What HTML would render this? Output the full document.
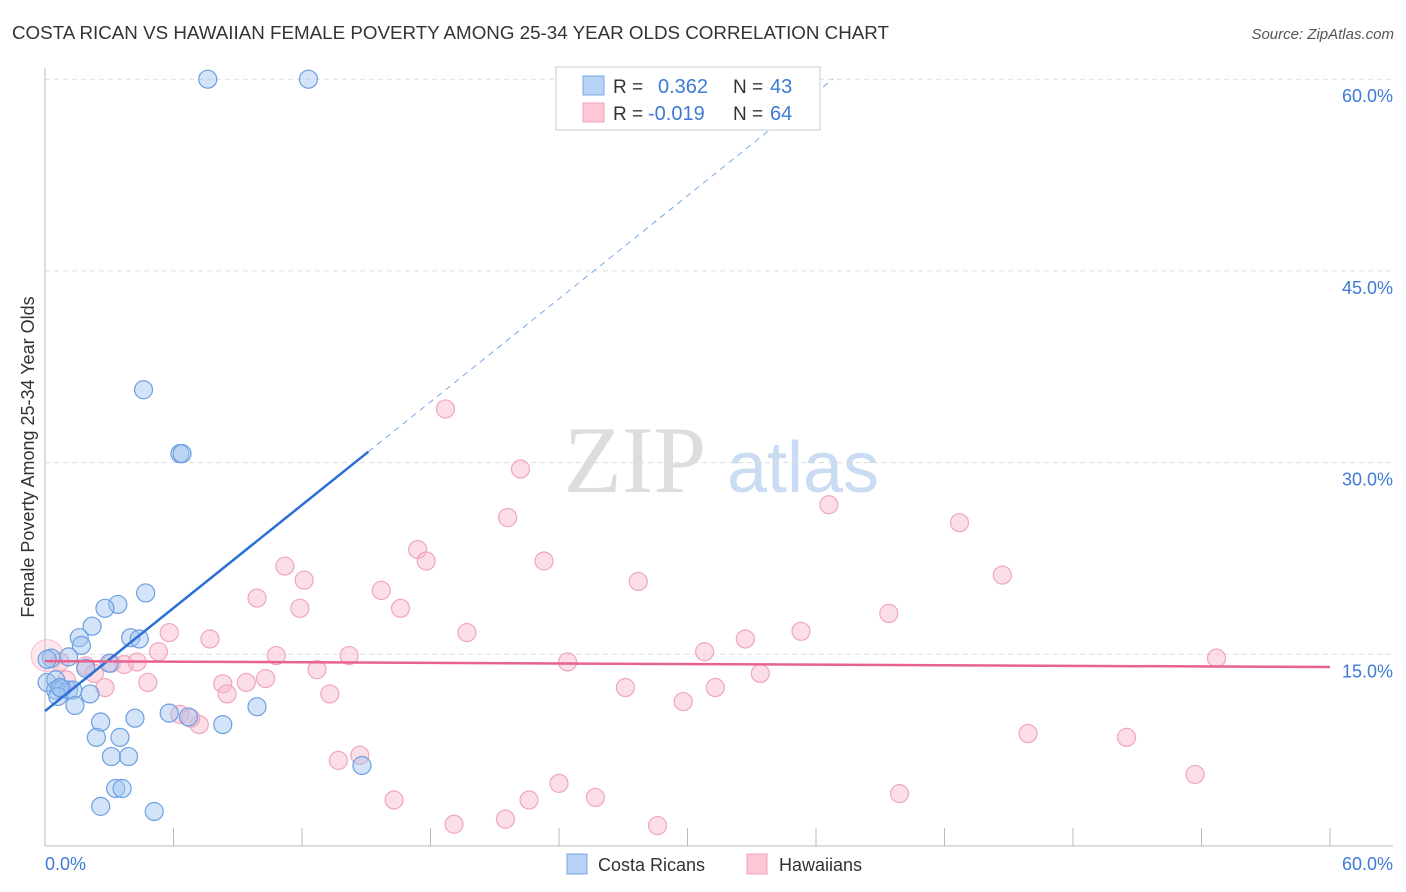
<!DOCTYPE html>
<html><head><meta charset="utf-8"><style>
body{margin:0;background:#fff;font-family:"Liberation Sans",sans-serif}
svg{display:block}
</style></head><body>
<svg width="1406" height="892">
<text x="12" y="39" font-size="18" fill="#333" textLength="877" lengthAdjust="spacingAndGlyphs">COSTA RICAN VS HAWAIIAN FEMALE POVERTY AMONG 25-34 YEAR OLDS CORRELATION CHART</text>
<text x="1394" y="39" font-size="15" fill="#555" font-style="italic" text-anchor="end">Source: ZipAtlas.com</text>
<text x="635" y="492" font-size="95" fill="#ddd" font-family="Liberation Serif,serif" text-anchor="middle">ZIP</text>
<text x="803" y="492" font-size="72" fill="#c9dcf3" text-anchor="middle">atlas</text>
<g id="grid"></g>
<g id="marks"></g>
<text transform="translate(34,457) rotate(-90)" font-size="18" fill="#333" text-anchor="middle">Female Poverty Among 25-34 Year Olds</text>
<text x="45" y="870" font-size="18" fill="#3d7bd6">0.0%</text>
<text x="1393" y="870" font-size="18" fill="#3d7bd6" text-anchor="end">60.0%</text>
<g>
<rect x="556" y="67" width="264" height="63" fill="#fff" stroke="#ccc"/>
<rect x="583" y="76" width="21" height="19" fill="#b8d2f5" stroke="#7aa7e6"/>
<rect x="583" y="103" width="21" height="19" fill="#fcc8d6" stroke="#f0a3ba"/>
<text x="613" y="93" font-size="19" fill="#333">R = </text><text x="658" y="93" font-size="20" fill="#3d7bd6">0.362</text>
<text x="733" y="93" font-size="19" fill="#333">N = </text><text x="770" y="93" font-size="20" fill="#3d7bd6">43</text>
<text x="613" y="120" font-size="19" fill="#333">R = </text><text x="648" y="120" font-size="20" fill="#3d7bd6">-0.019</text>
<text x="733" y="120" font-size="19" fill="#333">N = </text><text x="770" y="120" font-size="20" fill="#3d7bd6">64</text>
</g>
<g>
<rect x="567" y="854" width="20" height="20" fill="#b8d2f5" stroke="#7aa7e6"/>
<text x="598" y="871" font-size="18" fill="#333">Costa Ricans</text>
<rect x="747" y="854" width="20" height="20" fill="#fcc8d6" stroke="#f0a3ba"/>
<text x="779" y="871" font-size="18" fill="#333">Hawaiians</text>
</g>
</svg>
<script>
const yTicks=[15,30,45,60];
const yTickLabels=["15.0%","30.0%","45.0%","60.0%"];
const xTicks=[0,6,12,18,24,30,36,42,48,54,60];
const blueX=[7.6,12.3,4.6,6.3,6.4,4.7,3.4,2.8,2.2,1.6,4.0,4.4,1.7,1.1,0.3,3.0,1.9,0.1,0.5,0.5,0.8,1.1,1.3,2.1,0.6,1.4,5.8,6.7,4.2,2.6,8.3,9.9,2.4,3.5,3.1,3.9,3.3,3.6,2.6,5.1,14.8,0.1,0.7];
const blueY=[60,60,35.7,30.7,30.7,19.8,18.9,18.6,17.2,16.3,16.3,16.2,15.7,14.8,14.7,14.3,13.9,12.8,13.0,12.2,12.3,12.2,12.2,11.9,11.7,11.0,10.4,10.1,10.0,9.7,9.5,10.9,8.5,8.5,7.0,7.0,4.5,4.5,3.1,2.7,6.3,14.6,12.4];
const pinkX=[18.7,22.2,21.6,36.6,42.7,17.4,17.8,23.3,11.2,12.1,44.7,27.7,15.7,9.9,11.9,16.6,39.4,19.7,5.8,7.7,32.7,35.3,5.3,10.8,14.2,30.8,54.7,24.4,1.9,3.1,3.7,4.3,12.7,0.7,1.0,2.3,4.8,8.3,9.4,10.3,2.8,13.3,27.1,31.3,29.8,33.4,6.3,7.2,8.5,14.7,13.7,45.9,50.5,16.3,24.0,25.7,22.6,19.1,21.5,28.6,39.9,53.7,6.8];
const pinkY=[34.2,29.5,25.7,26.7,25.3,23.2,22.3,22.3,21.9,20.8,21.2,20.7,20.0,19.4,18.6,18.6,18.2,16.7,16.7,16.2,16.2,16.8,15.2,14.9,14.9,15.2,14.7,14.4,14.1,14.3,14.2,14.4,13.8,14.4,13.0,13.5,12.8,12.7,12.8,13.1,12.4,11.9,12.4,12.4,11.3,13.5,10.3,9.5,11.9,7.1,6.7,8.8,8.5,3.6,4.9,3.8,3.6,1.7,2.1,1.6,4.1,5.6,10.0];
const blueFit=[10.56,1.344];
const pinkFit=[14.47,-0.0078];
const NS="http://www.w3.org/2000/svg";
const X=v=>45+v*(1285/60), Y=v=>846-v*(191.7/15);
function mk(t,a,p){const e=document.createElementNS(NS,t);for(const k in a)e.setAttribute(k,a[k]);p.appendChild(e);return e;}
const grid=document.getElementById('grid'), marks=document.getElementById('marks');
yTicks.forEach((t,i)=>{
 const l=mk('line',{x1:45,x2:1393,y1:Y(t),y2:Y(t),stroke:'#ddd','stroke-dasharray':'5,4'},grid);
 
 
 const tx=mk('text',{x:1393,y:Y(t)+23,'font-size':18,fill:'#3d7bd6','text-anchor':'end'},grid);
 tx.textContent=yTickLabels[i];
 
 
});
const ya=mk('line',{x1:45,x2:45,y1:68,y2:846,stroke:'#bbb'},grid);


const xa=mk('line',{x1:45,x2:1393,y1:846,y2:846,stroke:'#bbb'},grid);


xTicks.forEach(t=>{
 const l=mk('line',{x1:X(t),x2:X(t),y1:828,y2:846,stroke:'#bbb'},grid);
 
 
});
pinkX.forEach((x,i)=>{
 const c=mk('circle',{cx:X(x),cy:Y(pinkY[i]),r:9,fill:'rgba(248,182,202,0.45)',stroke:'#f0a6bd','stroke-width':1.2},marks);
 
 
});
const big=mk('circle',{cx:X(0.1),cy:Y(14.9),r:16,fill:'rgba(248,182,202,0.35)',stroke:'#f5c0d0'},marks);


blueX.forEach((x,i)=>{
 const c=mk('circle',{cx:X(x),cy:Y(blueY[i]),r:9,fill:'rgba(160,196,240,0.45)',stroke:'#6b9fe2','stroke-width':1.2},marks);
 
 
});
const bf=x=>blueFit[0]+blueFit[1]*x;
const b1=mk('line',{x1:X(0),y1:Y(bf(0)),x2:X(15.1),y2:Y(bf(15.1)),stroke:'#2a6fd6','stroke-width':2.5},marks);


const xe=(60-blueFit[0])/blueFit[1];
const b2=mk('line',{x1:X(15.1),y1:Y(bf(15.1)),x2:X(xe),y2:Y(bf(xe)),stroke:'#7aa7e6','stroke-width':1,'stroke-dasharray':'6,5'},marks);


const pf=x=>pinkFit[0]+pinkFit[1]*x;
const p1=mk('line',{x1:X(0),y1:Y(pf(0)),x2:X(60),y2:Y(pf(60)),stroke:'#e8628f','stroke-width':2.5},marks);


</script>
</body></html>
